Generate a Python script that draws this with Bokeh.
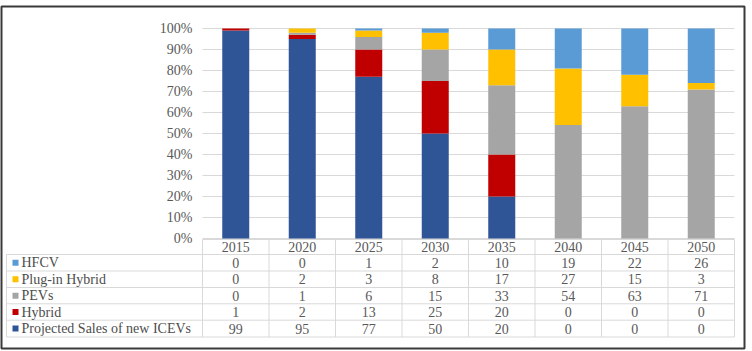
from bokeh.plotting import figure
from bokeh.models import Range1d, ColumnDataSource
from bokeh.core.properties import value
from bokeh.embed import file_html
from bokeh.resources import INLINE

# ---------------- data ----------------
years = ["2015", "2020", "2025", "2030", "2035", "2040", "2045", "2050"]
icev = [99, 95, 77, 50, 20, 0, 0, 0]
hybrid = [1, 2, 13, 25, 20, 0, 0, 0]
pevs = [0, 1, 6, 15, 33, 54, 63, 71]
plugin = [0, 2, 3, 8, 17, 27, 15, 3]
hfcv = [0, 0, 1, 2, 10, 19, 22, 26]

series_keys = ["icev", "hybrid", "pevs", "plugin", "hfcv"]
series_names = ["Projected Sales of new ICEVs", "Hybrid", "PEVs", "Plug-in Hybrid", "HFCV"]
colors = ["#2F5597", "#C00000", "#A5A5A5", "#FFC000", "#5B9BD5"]

y_ticks = [0, 10, 20, 30, 40, 50, 60, 70, 80, 90, 100]
y_tick_labels = ["0%", "10%", "20%", "30%", "40%", "50%", "60%", "70%", "80%", "90%", "100%"]

# ---------------- layout (pixels) ----------------
W, H = 752, 351
FRAME_L, FRAME_R, FRAME_T, FRAME_B = 1, 744, 6, 348
COL_PX = 66.5        # width of one category column
PCT_PX = 2.1         # pixels per percent
AREA_LEFT = 202      # left edge of category area
ZERO_ROW = 238       # pixel row of 0 %
TABLE_LEFT = 6
ROW_EDGES = [239, 254, 270.5, 287, 303.3, 319.7, 336.5]

def xd(px):
    return (px - AREA_LEFT) / COL_PX

def yd(py):
    return (ZERO_ROW - py) / PCT_PX

FONT = value("Liberation Serif")
FSIZE = value("14px")
TXT = "#595959"
GRID = "#D9D9D9"

p = figure(width=W, height=H, output_backend="svg", toolbar_location=None,
           x_range=Range1d(xd(FRAME_L), xd(FRAME_R)),
           y_range=Range1d(yd(FRAME_B), yd(FRAME_T)),
           x_axis_location=None, y_axis_location=None, title=None,
           min_border_left=FRAME_L, min_border_right=W - FRAME_R,
           min_border_top=FRAME_T, min_border_bottom=H - FRAME_B)
p.grid.visible = False
p.outline_line_color = "#3A3A3A"
p.outline_line_width = 2
p.background_fill_color = "white"
p.border_fill_color = "white"

n = len(years)
xs = [i + 0.5 for i in range(n)]

# gridlines
p.segment(x0=[0] * len(y_ticks), y0=y_ticks, x1=[n] * len(y_ticks), y1=y_ticks,
          line_color=GRID, line_width=1)

# y tick labels
p.text(x=[xd(192)] * len(y_ticks), y=y_ticks, text=y_tick_labels,
       text_font=FONT, text_font_size=FSIZE, text_color=TXT,
       text_align="right", text_baseline="middle")

# stacked bars
src = ColumnDataSource(dict(x=xs, icev=icev, hybrid=hybrid, pevs=pevs, plugin=plugin, hfcv=hfcv))
p.vbar_stack(series_keys, x="x", width=27 / COL_PX, color=colors, source=src, line_width=0)

# ---------------- data table ----------------
ytop, ybot = yd(ROW_EDGES[0]), yd(ROW_EDGES[-1])
# vertical lines
p.segment(x0=list(range(n + 1)), y0=[ytop] * (n + 1), x1=list(range(n + 1)), y1=[ybot] * (n + 1),
          line_color=GRID, line_width=1)
p.segment(x0=[xd(TABLE_LEFT)], y0=[yd(ROW_EDGES[1])], x1=[xd(TABLE_LEFT)], y1=[ybot],
          line_color=GRID, line_width=1)
# horizontal lines
p.segment(x0=[0], y0=[ytop], x1=[n], y1=[ytop], line_color=GRID, line_width=1)
hy = [yd(e) for e in ROW_EDGES[1:]]
p.segment(x0=[xd(TABLE_LEFT)] * len(hy), y0=hy, x1=[n] * len(hy), y1=hy,
          line_color=GRID, line_width=1)

# header years
hdr_y = yd((ROW_EDGES[0] + ROW_EDGES[1]) / 2)
p.text(x=xs, y=[hdr_y] * n, text=years, text_font=FONT, text_font_size=FSIZE,
       text_color=TXT, text_align="center", text_baseline="middle")

# rows: top-to-bottom HFCV, Plug-in, PEVs, Hybrid, ICEV
row_series = [hfcv, plugin, pevs, hybrid, icev]
row_names = [series_names[4], series_names[3], series_names[2], series_names[1], series_names[0]]
row_colors = [colors[4], colors[3], colors[2], colors[1], colors[0]]
for r, (vals, name, col) in enumerate(zip(row_series, row_names, row_colors)):
    cy = yd((ROW_EDGES[r + 1] + ROW_EDGES[r + 2]) / 2)
    p.text(x=xs, y=[cy] * n, text=[str(v) for v in vals], text_font=FONT,
           text_font_size=FSIZE, text_color=TXT, text_align="center", text_baseline="middle")
    p.scatter(x=[xd(15)], y=[cy], marker="square", size=6, fill_color=col, line_width=0)
    p.text(x=[xd(21)], y=[cy], text=[name], text_font=FONT, text_font_size=FSIZE,
           text_color="#4D4D4D", text_align="left", text_baseline="middle")

open("out.html", "w").write(file_html(p, INLINE))
